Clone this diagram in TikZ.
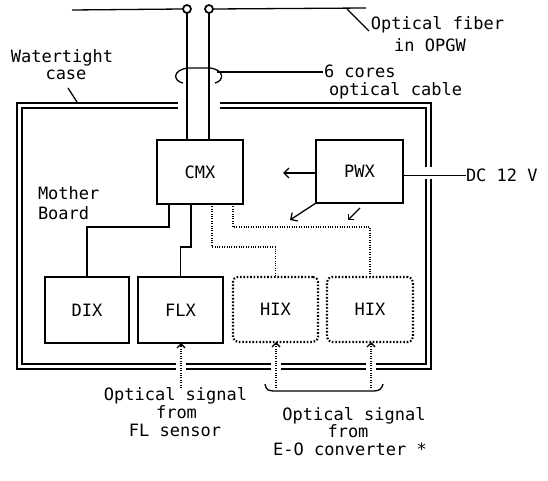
\documentclass[tikz,border=0pt]{standalone}
\usepackage{fontspec}
\setmainfont{DejaVu Sans Mono}
\usetikzlibrary{arrows.meta}
\begin{document}
\begin{tikzpicture}[x=1pt,y=-1pt,
  txt/.style={font=\fontsize{17}{17.5}\selectfont, inner sep=0pt, outer sep=0pt},
  box/.style={draw, line width=1.6pt, inner sep=0pt, outer sep=0pt, font=\fontsize{17}{17.5}\selectfont},
  optbox/.style={box, line width=2.1pt, dash pattern=on 1.6pt off 1.8pt, rounded corners=5pt},
  wire/.style={line width=1.3pt},
  owire/.style={line width=1.4pt, dash pattern=on 1pt off 1.4pt},
  barb/.style={-{Straight Barb[length=5pt,width=10pt]}},
  sbarb/.style={-{Straight Barb[length=4pt,width=8pt]}},
  end/.style={circle, draw, line width=1.7pt, minimum size=8pt, inner sep=0pt, outer sep=0pt},
  ]
\useasboundingbox (0,0) rectangle (548,481);

% boxes
\node[box, minimum width=86pt, minimum height=64pt] (cmx) at (200,172) {CMX};
\node[box, minimum width=87pt, minimum height=63pt] (pwx) at (359.5,171.5) {PWX};
\node[box, minimum width=84pt, minimum height=66pt] (dix) at (87,310) {DIX};
\node[box, minimum width=85pt, minimum height=66pt] (flx) at (180.5,310) {FLX};
\node[optbox, minimum width=85pt, minimum height=65pt] (hixa) at (275.5,309.5) {HIX};
\node[optbox, minimum width=86pt, minimum height=65pt] (hixb) at (370,309.5) {HIX};

% fiber ends and cable
\node[end] (c1) at (187,9) {};
\node[end] (c2) at (209,9) {};
\coordinate (fl) at (72,10);
\coordinate (fr) at (366,8);
\draw[wire] (fl) -- (c1.west);
\draw[wire] (c2.east) -- (fr);
\draw[wire] (c1.south) -- (c1 |- cmx.north);
\draw[wire] (c2.south) -- (c2 |- cmx.north);

% loop round cable and leader
\draw[wire] (183,83) .. controls (173,81) and (172,70) .. (188,68) -- (210,68)
  .. controls (225,70) and (224,81) .. (215,83);
\coordinate (cl1) at (217,72);
\coordinate (cl2) at (323,72);
\draw[wire] (cl1) -- (cl2);
\node[txt, anchor=base west] (cores) at (324,78) {6 cores};
\node[txt, anchor=base west] (ocable) at (329,96) {optical cable};

% fiber leader and label
\coordinate (ff1) at (347,9);
\coordinate (ff2) at (369,31);
\draw[wire] (ff1) -- (ff2);
\node[txt, anchor=base] (ofib) at (437.5,30) {Optical fiber};
\node[txt, anchor=base] (opgw) at (430,52) {in OPGW};

% watertight case (double line)
\draw[wire] (178,103) -- (17,103) -- (17,369) -- (176,369);
\draw[wire] (186,369) -- (271,369);
\draw[wire] (281,369) -- (366,369);
\draw[wire] (376,369) -- (431,369) -- (431,179);
\draw[wire] (431,167) -- (431,103) -- (220,103);
\draw[wire] (178,108) -- (22,108) -- (22,364) -- (176,364);
\draw[wire] (186,364) -- (271,364);
\draw[wire] (281,364) -- (366,364);
\draw[wire] (376,364) -- (426,364) -- (426,179);
\draw[wire] (426,167) -- (426,108) -- (220,108);

\node[txt, anchor=base] (wt) at (62,63) {Watertight};
\node[txt, anchor=base] (cs) at (66,80) {case};
\coordinate (wl1) at (68,88);
\coordinate (wl2) at (77,102);
\draw[wire] (wl1) -- (wl2);

\node[txt, anchor=base west] (mb1) at (38,199) {Mother};
\node[txt, anchor=base west] (mb2) at (38,219) {Board};

% CMX to interface boxes
\draw[wire] ([xshift=-31pt]cmx.south) -- ++(0,23) -| (dix.north);
\draw[wire] ([xshift=-9pt]cmx.south) -- ++(0,43) -| (flx.north);
\draw[owire] ([xshift=12pt]cmx.south) -- ++(0,43) -| (hixa.north);
\draw[owire] ([xshift=33pt]cmx.south) -- ++(0,23) -| (hixb.north);

% PWX
\coordinate (pl) at (283,173);
\draw[wire, barb] (pwx.west |- pl) -- (pl);
\coordinate (pd) at (290,220);
\draw[wire, barb] (pwx.south west) -- (pd);
\coordinate (ps1) at (360,208);
\coordinate (ps2) at (348,220);
\draw[wire, sbarb] (ps1) -- (ps2);
\node[txt, anchor=base west] (dc) at (466,182) {DC 12 V};
\draw[wire] (pwx.east |- dc.west) -- (dc.west);

% optical signal inputs
\coordinate (sf) at (181,388);
\draw[owire, sbarb] (sf) -- (sf |- flx.south);
\coordinate (sa) at (276,388);
\coordinate (sb) at (371,388);
\draw[owire, sbarb] (sa) -- (sa |- hixa.south);
\draw[owire, sbarb] (sb) -- (sb |- hixb.south);
\draw[wire] (265,384) .. controls (266,390) and (268,391) .. (276,391) -- (374,391)
  .. controls (380,391) and (382,388) .. (383,384);

\node[txt, anchor=base] (os1) at (175.5,400) {Optical signal};
\node[txt, anchor=base] (fr1) at (176.5,418) {from};
\node[txt, anchor=base] (fls) at (175,436) {FL sensor};
\node[txt, anchor=base] (os2) at (354,420) {Optical signal};
\node[txt, anchor=base] (fr2) at (348,437) {from};
\node[txt, anchor=base] (eo) at (350,455) {E-O converter *};
\end{tikzpicture}
\end{document}
